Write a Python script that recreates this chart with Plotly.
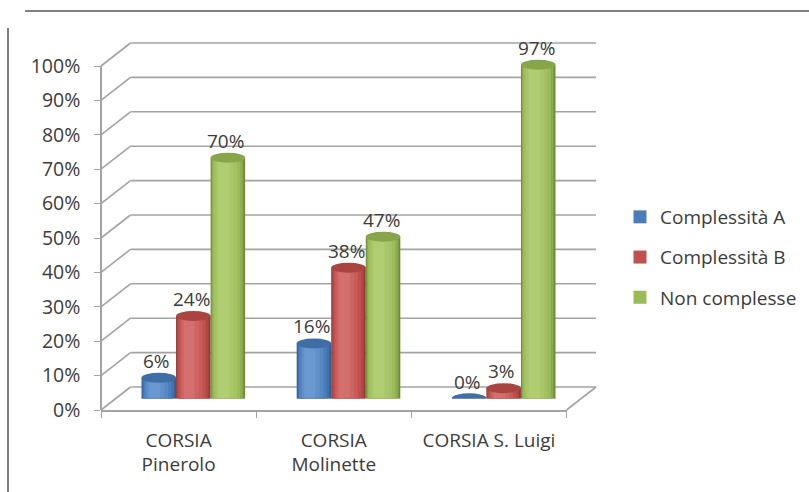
import plotly.graph_objects as go

# ---- data -------------------------------------------------------------
categories = ["CORSIA Pinerolo", "CORSIA Molinette", "CORSIA S. Luigi"]
category_labels = ["CORSIA<br>Pinerolo", "CORSIA<br>Molinette", "CORSIA S. Luigi"]
series_names = ["Complessità A", "Complessità B", "Non complesse"]
complessita_a = [6, 16, 0]
complessita_b = [24, 38, 3]
non_complesse = [70, 47, 97]
y_ticks = list(range(0, 101, 10))
y_tick_labels = [f"{v}%" for v in y_ticks]

# ---- styling ----------------------------------------------------------
W, H = 809, 492
FONT = "Open Sans"
TEXT = "#3C3C3C"
GRID = "#A3A3A3"
palette = [
    # dark edge, legend/body, highlight, top cap
    ("#355D8F", "#4A7EBB", "#6A98D0", "#3F6EA7"),
    ("#923835", "#C0504D", "#D36F6C", "#AA4441"),
    ("#6E8A3B", "#9BBB59", "#B0CD72", "#87A54A"),
]

# frame geometry (pixels): front wall of the 3-D box and depth offset
FX0, FX1 = 101.0, 566.5        # front floor edge, left/right
FY0, FY100 = 410.0, 66.0       # front axis, 0% and 100%
DX, DY = 29.5, 23.0            # depth of the box
MX0, MX1 = FX0 + DX / 2, FX1 + DX / 2     # plane holding the columns
MY0, MY100 = FY0 - DY / 2, FY100 - DY / 2
PX_PER_UNIT = (FY0 - FY100) / 100.0


def px(x):
    return x / W


def py(y):
    return 1 - y / H


def front_y(v):
    return FY0 - v * PX_PER_UNIT


def mix(c1, c2, t):
    a = [int(c1[i:i + 2], 16) for i in (1, 3, 5)]
    b = [int(c2[i:i + 2], 16) for i in (1, 3, 5)]
    return "#" + "".join(f"{round(x + (y - x) * t):02X}" for x, y in zip(a, b))


fig = go.Figure()

bar_w = 0.2226
series_values = [complessita_a, complessita_b, non_complesse]
shapes = []

line = dict(color=GRID, width=1.6)
# side wall and back wall gridlines
for v in y_ticks:
    yf = front_y(v)
    shapes.append(dict(type="line", xref="paper", yref="paper", layer="below",
                       x0=px(FX0), y0=py(yf), x1=px(FX0 + DX), y1=py(yf - DY), line=line))
    shapes.append(dict(type="line", xref="paper", yref="paper", layer="below",
                       x0=px(FX0 + DX), y0=py(yf - DY), x1=px(FX1 + DX), y1=py(yf - DY), line=line))
# right floor edge
shapes.append(dict(type="line", xref="paper", yref="paper", layer="below",
                   x0=px(FX1), y0=py(FY0), x1=px(FX1 + DX), y1=py(FY0 - DY), line=line))

# nested column layers: width fraction and brightness (0 = edge, 1 = highlight)
shade_widths = [1.0, 0.92, 0.80, 0.66, 0.50, 0.32]
shade_levels = [0.0, 0.35, 0.55, 0.72, 0.86, 1.0]
HIGHLIGHT_POS = -0.12   # highlight centre, as a fraction of the column width

cap = 5.0 / PX_PER_UNIT   # half height of the elliptical caps, in data units
annotations = []
for i, (name, vals) in enumerate(zip(series_names, series_values)):
    dark, body, light, top = palette[i]
    c = (i - 1) * bar_w
    for frac, level in zip(shade_widths, shade_levels):
        width = bar_w * frac
        centre = c + HIGHLIGHT_POS * bar_w * (1 - frac) / (1 - shade_widths[-1])
        color = mix(dark, body, level / 0.55) if level <= 0.55 else mix(body, light, (level - 0.55) / 0.45)
        fig.add_trace(go.Bar(
            x=categories, y=vals, name=name, legendgroup=name,
            showlegend=False, width=width, offset=centre - width / 2,
            marker=dict(color=color, line=dict(width=0)),
            xaxis="x", yaxis="y", hoverinfo="skip",
        ))
    # legend entry: flat square swatch in the series colour
    fig.add_trace(go.Scatter(
        x=[None], y=[None], name=name, legendgroup=name, mode="markers",
        marker=dict(symbol="square", size=13, color=body), xaxis="x", yaxis="y",
    ))
    for k, v in enumerate(vals):
        x0, x1 = k + c - bar_w / 2, k + c + bar_w / 2
        # rounded base (under the column) and top cap
        shapes.append(dict(type="circle", xref="x", yref="y", layer="below",
                           x0=x0, x1=x1, y0=-cap, y1=cap,
                           fillcolor=dark, line=dict(width=0)))
        shapes.append(dict(type="circle", xref="x", yref="y", layer="above",
                           x0=x0, x1=x1, y0=v - cap, y1=v + cap,
                           fillcolor=top, line=dict(width=0)))
        annotations.append(dict(x=k + c, y=v, xref="x", yref="y", text=f"{v}%",
                                showarrow=False, yshift=17, xshift=-2,
                                yanchor="middle", xanchor="center",
                                font=dict(family=FONT, size=19, color=TEXT)))

# invisible trace on the front axes so the category axis is laid out
fig.add_trace(go.Scatter(x=categories, y=[0, 0, 0], xaxis="x2", yaxis="y2",
                         mode="markers", marker=dict(opacity=0),
                         showlegend=False, hoverinfo="skip"))

# outer chart border
border = dict(color="#7F7F7F", width=2)
shapes.append(dict(type="line", xref="paper", yref="paper",
                   x0=px(25), y0=py(11), x1=px(809), y1=py(11), line=border))
shapes.append(dict(type="line", xref="paper", yref="paper",
                   x0=px(8), y0=py(28), x1=px(8), y1=py(492), line=border))

fig.update_layout(
    width=W, height=H, autosize=False,
    margin=dict(l=0, r=0, t=0, b=0, pad=0, autoexpand=False),
    paper_bgcolor="white", plot_bgcolor="rgba(0,0,0,0)",
    barmode="overlay",
    font=dict(family=FONT, size=19, color=TEXT),
    xaxis=dict(type="category", categoryarray=categories, range=[-0.5, 2.5],
               domain=[px(MX0), px(MX1)], visible=False, fixedrange=True),
    yaxis=dict(range=[0, 100], domain=[py(MY0), py(MY100)], visible=False,
               fixedrange=True),
    xaxis2=dict(type="category", categoryarray=categories, range=[-0.5, 2.5],
                domain=[px(FX0), px(FX1)], anchor="y2",
                tickmode="array", tickvals=categories, ticktext=category_labels,
                tickson="boundaries", ticks="outside", ticklen=6, tickcolor=GRID,
                ticklabelstandoff=12,
                showline=True, linecolor=GRID, linewidth=1.6, showgrid=False,
                tickfont=dict(family=FONT, size=19, color=TEXT), fixedrange=True),
    yaxis2=dict(range=[0, 100], domain=[py(FY0), py(FY100)], anchor="free",
                position=px(FX0), side="left",
                tickmode="array", tickvals=y_ticks, ticktext=y_tick_labels,
                ticks="outside", ticklen=6, tickcolor=GRID,
                ticklabelstandoff=10,
                showline=True, linecolor=GRID, linewidth=1.6, showgrid=False,
                zeroline=False, tickfont=dict(family=FONT, size=19.5, color=TEXT),
                fixedrange=True),
    legend=dict(x=px(620), y=py(198), xanchor="left", yanchor="top",
                tracegroupgap=12.5, font=dict(family=FONT, size=19, color=TEXT),
                bgcolor="rgba(0,0,0,0)"),
    shapes=shapes,
    annotations=annotations,
)

fig.write_html("out.html")
